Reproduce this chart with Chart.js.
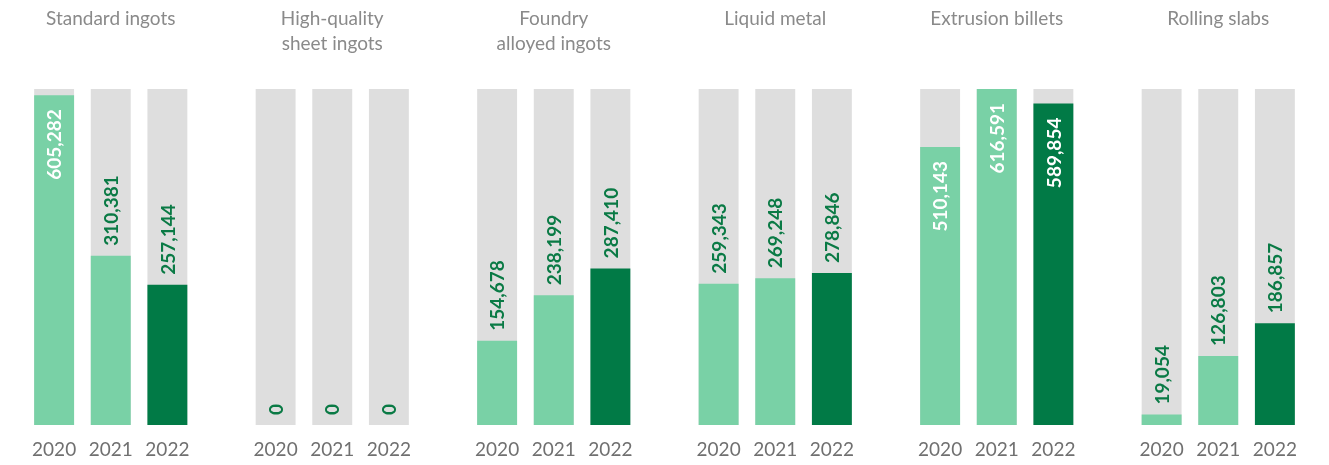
<!DOCTYPE html>
<html>
<head>
<meta charset="utf-8">
<script src="https://cdn.jsdelivr.net/npm/chart.js@4/dist/chart.umd.min.js"></script>
<style>
  html, body { margin: 0; padding: 0; background: #fff; }
  #wrap { width: 1329px; height: 465px; position: relative; }
</style>
</head>
<body>
<div id="wrap"><canvas id="productChart"></canvas></div>
<script>
  // product groups (two-line titles keep the first line aligned)
  const categories = [
    ["Standard ingots", ""],
    ["High-quality", "sheet ingots"],
    ["Foundry", "alloyed ingots"],
    ["Liquid metal", ""],
    ["Extrusion billets", ""],
    ["Rolling slabs", ""]
  ];
  const years = ["2020", "2021", "2022"];

  // output, tonnes
  const values2020 = [605282, 0, 154678, 259343, 510143, 19054];
  const values2021 = [310381, 0, 238199, 269248, 616591, 126803];
  const values2022 = [257144, 0, 287410, 278846, 589854, 186857];

  const yearColors = ["#79d1a6", "#79d1a6", "#017a46"];
  const trackColor = "#dedede";
  const labelGreen = "#0a7a45";
  const fontFamily = "Lato, 'Open Sans', sans-serif";

  const series = [values2020, values2021, values2022];
  const scaleMax = Math.max(...series.flat());

  const datasets = [];
  series.forEach((vals, i) => {
    datasets.push({
      label: years[i],
      data: vals,
      stack: "y" + years[i],
      backgroundColor: yearColors[i],
      isValue: true
    });
  });
  // grey tracks behind each bar, sharing the bar's slot
  years.forEach(y => {
    datasets.push({
      label: "track " + y,
      data: categories.map(() => scaleMax),
      stack: "y" + y,
      backgroundColor: trackColor
    });
  });

  const barLabels = {
    id: "barLabels",
    afterDatasetsDraw(chart) {
      const { ctx, chartArea } = chart;
      chart.data.datasets.forEach((ds, di) => {
        if (!ds.isValue) return;
        const meta = chart.getDatasetMeta(di);
        meta.data.forEach((bar, idx) => {
          const value = ds.data[idx];
          const text = value.toLocaleString("en-US");

          // year under the bar
          ctx.save();
          ctx.font = "19px " + fontFamily;
          ctx.fillStyle = "#707070";
          ctx.textAlign = "center";
          ctx.textBaseline = "middle";
          ctx.fillText(ds.label, bar.x, chartArea.bottom + 25);
          ctx.restore();

          // value, rotated
          ctx.save();
          ctx.font = "bold 19px " + fontFamily;
          const w = ctx.measureText(text).width;
          const inside = bar.y - 10 - w < chartArea.top;
          ctx.translate(bar.x, inside ? bar.y + 14 : bar.y - 10);
          ctx.rotate(-Math.PI / 2);
          ctx.textBaseline = "middle";
          ctx.textAlign = inside ? "right" : "left";
          ctx.fillStyle = inside ? "#ffffff" : labelGreen;
          ctx.fillText(text, 0, 1);
          ctx.restore();
        });
      });
    }
  };

  new Chart(document.getElementById("productChart"), {
    type: "bar",
    data: { labels: categories, datasets },
    options: {
      responsive: true,
      maintainAspectRatio: false,
      animation: false,
      // negative top pulls the title row up against the canvas edge
      layout: { padding: { left: 0, right: 0, top: -27, bottom: 40 } },
      categoryPercentage: 0.767,
      barPercentage: 0.705,
      plugins: {
        legend: { display: false },
        tooltip: { enabled: false }
      },
      scales: {
        x: {
          position: "top",
          grid: { display: false, drawTicks: false },
          border: { display: false },
          ticks: {
            autoSkip: false,
            maxRotation: 0,
            padding: 33,
            color: "#8a8a8a",
            font: { family: fontFamily, size: 19, lineHeight: "25px" }
          }
        },
        y: {
          display: false,
          stacked: false,
          min: 0,
          max: scaleMax
        }
      }
    },
    plugins: [barLabels]
  });
</script>
</body>
</html>
